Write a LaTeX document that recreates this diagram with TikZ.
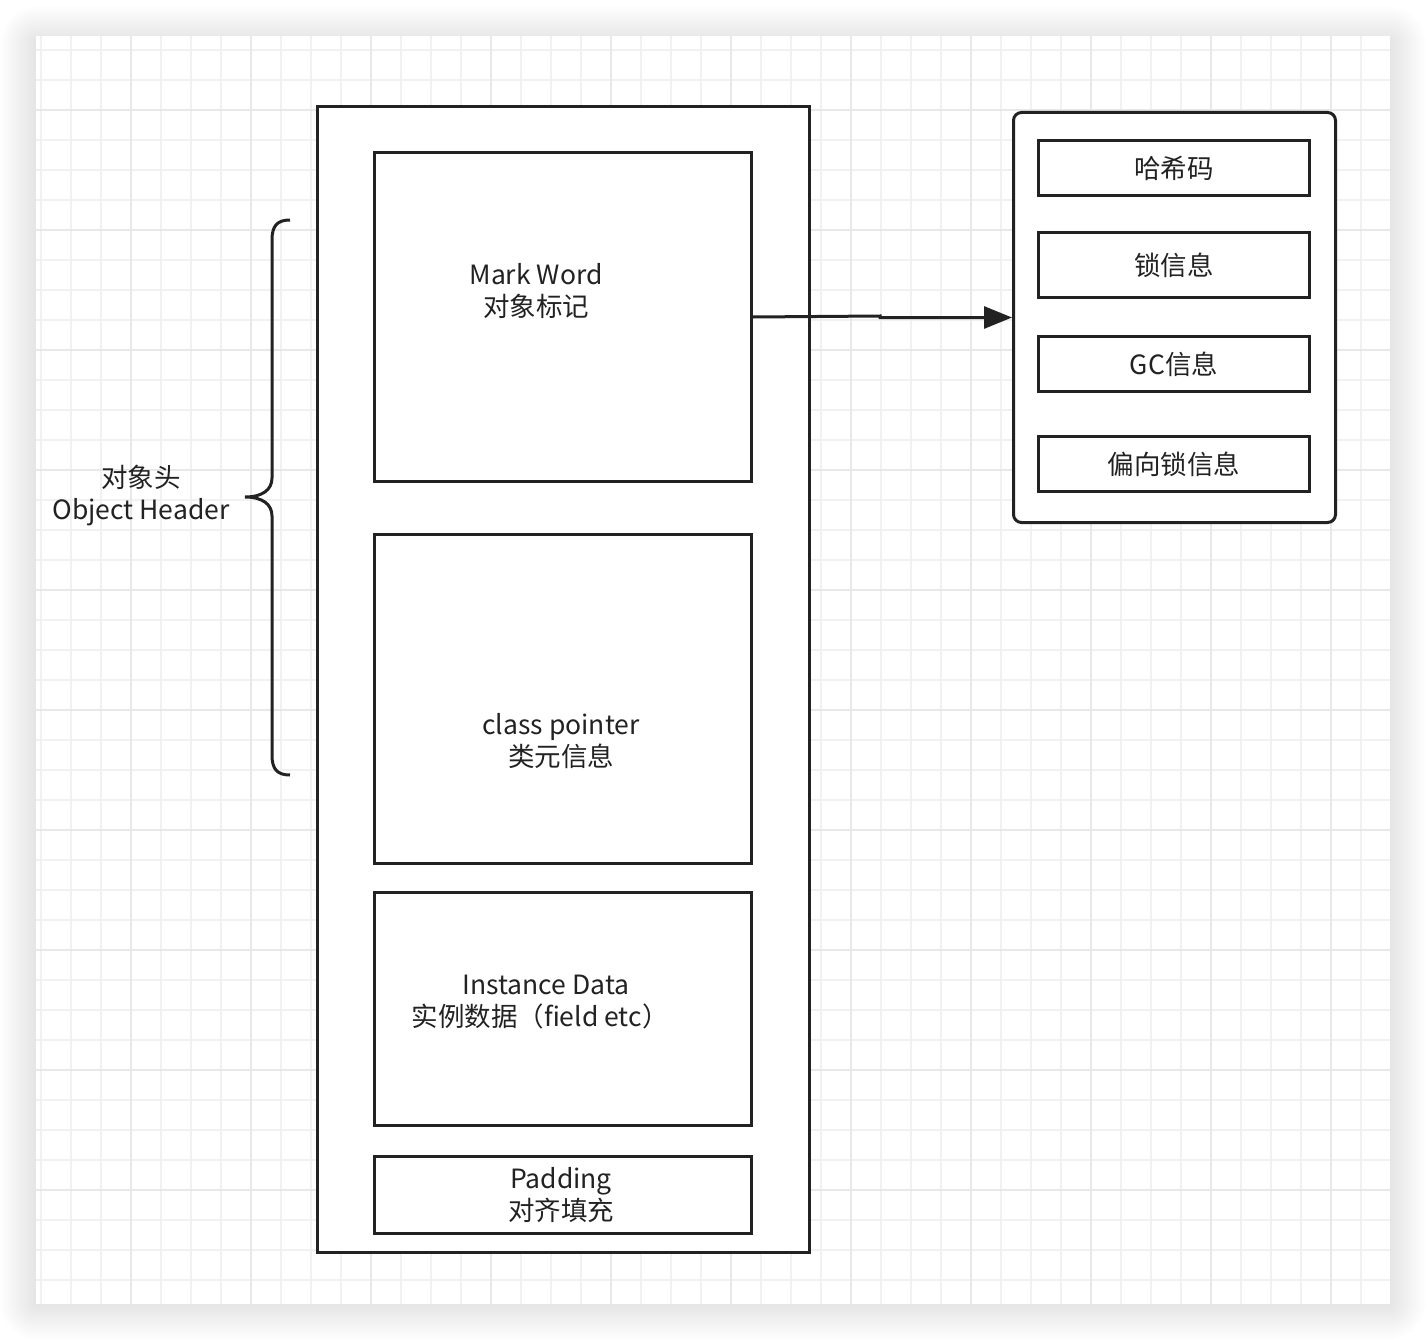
\documentclass[tikz,border=0pt]{standalone}
\usepackage{fontspec}
\setmainfont{Noto Sans CJK SC}
\usetikzlibrary{arrows.meta}
\definecolor{ink}{HTML}{222222}
\definecolor{gridminor}{HTML}{F1F1F1}
\definecolor{gridmajor}{HTML}{E8E8E8}
\tikzset{
    field/.style={draw=ink, line width=3pt, inner sep=0pt, anchor=north west},
    caption/.style={text=ink, align=center, inner sep=0pt, font=\fontsize{26.5}{32}\selectfont},
    link/.style={draw=ink, line width=3pt, -{Triangle[length=28pt, width=22pt]}},
}

\begin{document}
\begin{tikzpicture}[x=1pt, y=-1pt]
    \useasboundingbox (0,0) rectangle (1426,1340);
    % soft shadow and canvas
    \foreach \i in {1,...,26}
        \fill[black, opacity=.0055, rounded corners=1.5*\i pt] (36-1.4*\i, 42-1.4*\i) rectangle (1390+1.4*\i, 1304+1.4*\i);
    \fill[white] (36,36) rectangle (1390,1304);
    \foreach \x in {40.7,70.7,...,1390}
        \draw[gridminor, line width=2pt] (\x,36) -- (\x,1304);
    \foreach \y in {50,80,...,1304}
        \draw[gridminor, line width=2pt] (36,\y) -- (1390,\y);
    \foreach \x in {130.7,250.7,...,1390}
        \draw[gridmajor, line width=2pt] (\x,36) -- (\x,1304);
    \foreach \y in {110,230,...,1304}
        \draw[gridmajor, line width=2pt] (36,\y) -- (1390,\y);

    % object layout
    \node[field, fill=white, minimum width=492pt, minimum height=1146pt] (object) at (316,105) {};
    \node[field, minimum width=377pt, minimum height=329pt] (mark) at (373,151) {};
    \node[field, minimum width=377pt, minimum height=329pt] (klass) at (373,533) {};
    \node[field, minimum width=377pt, minimum height=233pt] (data) at (373,891) {};
    \node[field, minimum width=377pt, minimum height=77pt] (pad) at (373,1155) {};
    \node[caption] (marktext) at (536,291) {Mark Word\\对象标记};
    \node[caption] (klasstext) at (561,741) {class pointer\\类元信息};
    \node[caption] (datatext) at (540,1002) {\hspace*{12pt}Instance Data\\实例数据（field etc）};
    \node[caption] (padtext) at (561,1195) {Padding\\对齐填充};

    % mark word contents
    \node[field, fill=white, rounded corners=8pt, minimum width=322pt, minimum height=410pt] (info) at (1012,111) {};
    \node[field, minimum width=271pt, minimum height=55pt] (hash) at (1037,139) {};
    \node[field, minimum width=271pt, minimum height=65pt] (lock) at (1037,231) {};
    \node[field, minimum width=271pt, minimum height=55pt] (gc) at (1037,335) {};
    \node[field, minimum width=271pt, minimum height=55pt] (biased) at (1037,435) {};
    \node[caption] at (hash) {哈希码};
    \node[caption] at (lock) {锁信息};
    \node[caption] at (gc) {GC信息};
    \node[caption] at (biased) {偏向锁信息};

    \coordinate (step) at (880,316);
    \draw[link] (mark.east) -- (step) |- (info.west);

    % header brace
    \draw[ink, line width=3pt] (290,220) .. controls (277,220) and (272,226) .. (272,240)
        -- (272,478) .. controls (272,490) and (262,497) .. (245,497)
        .. controls (262,497) and (272,504) .. (272,516)
        -- (272,755) .. controls (272,769) and (277,775) .. (290,775);
    \node[caption] (header) at (141,496) {对象头\\Object Header};
\end{tikzpicture}
\end{document}
